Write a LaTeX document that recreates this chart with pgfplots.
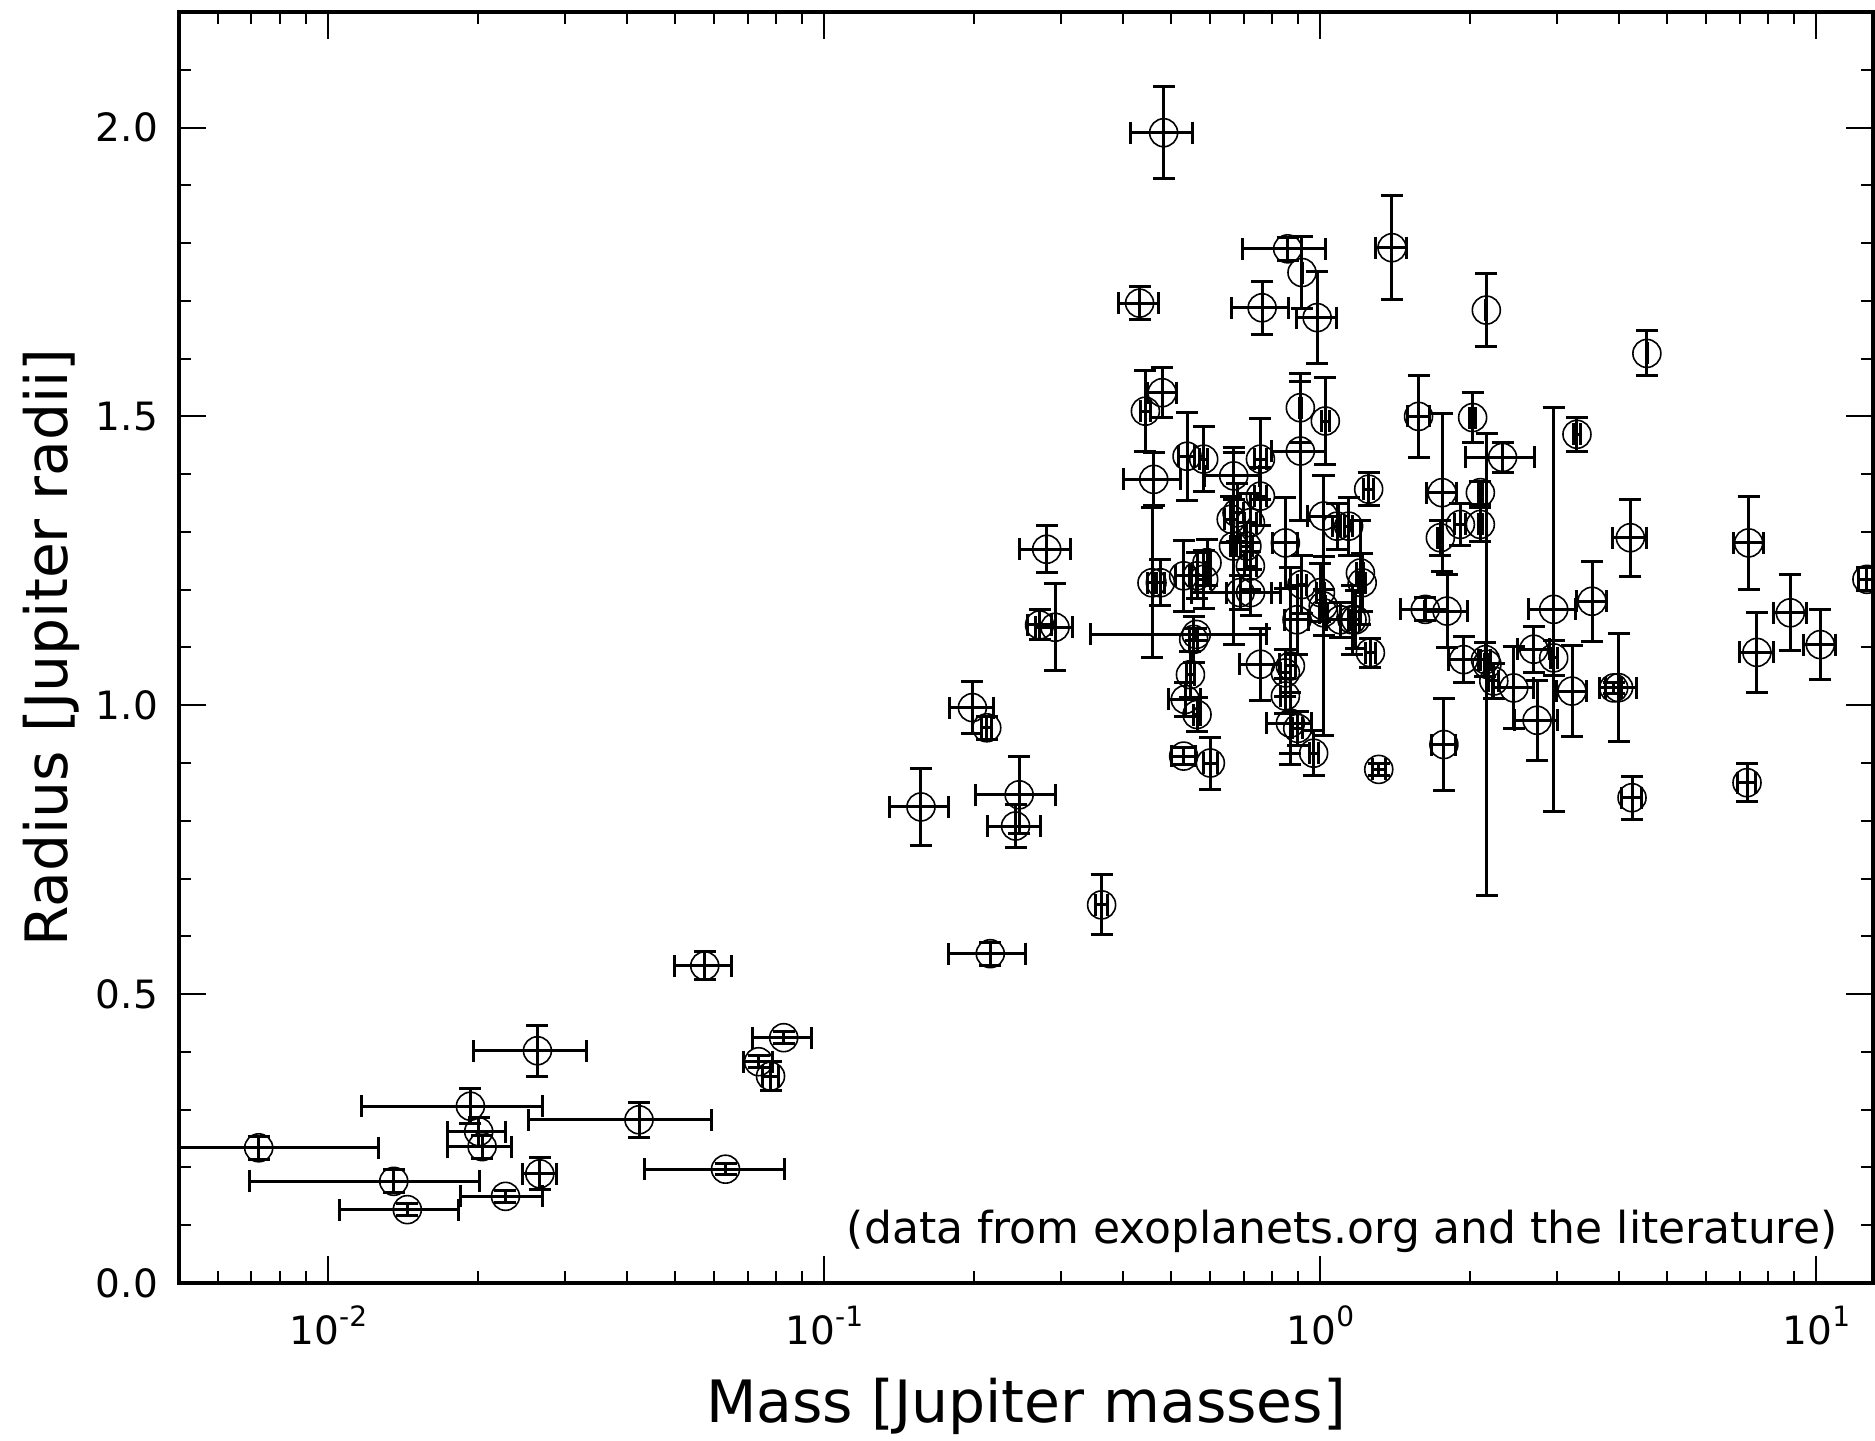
\documentclass[border=0pt]{standalone}
\usepackage{fontspec}
\setmainfont{DejaVu Sans}
\usepackage{pgfplots}
\pgfplotsset{compat=1.18}
\usepackage{pgfplotstable}
\newcommand{\tp}[1]{10\raisebox{4.5pt}{\fontsize{7}{7}\selectfont #1}}

\pgfplotstableread{
m dm r dr
0.00724 0.0054 0.234 0.02
0.01355 0.0066 0.176 0.02
0.01443 0.0039 0.127 0.01
0.02276 0.0043 0.150 0.01
0.02669 0.0021 0.189 0.028
0.01934 0.0077 0.306 0.03
0.0201 0.0027 0.262 0.025
0.02042 0.0030 0.236 0.02
0.0423 0.017 0.2825 0.03
0.0632 0.0198 0.197 0.01
0.0264 0.0068 0.402 0.044
0.0574 0.0075 0.549 0.024
0.0737 0.005 0.383 0.01
0.0779 0.003 0.358 0.025
0.0828 0.0113 0.4246 0.01
0.1566 0.0215 0.824 0.067
0.1988 0.020 0.996 0.045
0.2125 0.005 0.961 0.02
0.2160 0.038 0.570 0.02
0.2470 0.045 0.845 0.067
0.2429 0.030 0.791 0.037
0.2715 0.015 1.139 0.026
0.2807 0.033 1.270 0.041
0.2917 0.025 1.135 0.075
0.3622 0.010 0.6545 0.052
0.562 0.218 1.1226 0.01
0.483 0.068 1.991 0.08
0.432 0.040 1.696 0.029
0.763 0.100 1.688 0.046
0.859 0.164 1.790 0.02
0.918 0.003 1.749 0.062
0.985 0.090 1.671 0.08
1.394 0.100 1.792 0.0895
2.160 0.004 1.684 0.0635
4.551 0.008 1.609 0.039
3.290 0.050 1.469 0.029
1.577 0.080 1.500 0.071
2.027 0.030 1.498 0.043
2.329 0.370 1.429 0.026
2.101 0.020 1.368 0.02
2.166 0.020 1.071 0.40
2.101 0.020 1.313 0.03
1.915 0.050 1.313 0.036
1.759 0.120 1.368 0.137
1.745 0.020 1.290 0.03
1.627 0.180 1.166 0.02
1.800 0.180 1.163 0.0635
1.944 0.135 1.079 0.04
2.151 0.050 1.079 0.03
2.236 0.050 1.042 0.03
2.453 0.230 1.030 0.071
2.734 0.275 0.974 0.069
2.692 0.200 1.097 0.04
2.953 0.050 1.082 0.03
2.953 0.320 1.166 0.35
3.215 0.225 1.0245 0.079
3.528 0.250 1.180 0.069
4.215 0.330 1.290 0.0665
3.992 0.340 1.0305 0.094
3.902 0.150 1.030 0.01
4.248 0.200 0.840 0.0375
7.300 0.510 1.281 0.081
7.244 0.300 0.866 0.033
7.585 0.590 1.0915 0.069
8.856 0.670 1.160 0.066
10.18 0.750 1.105 0.061
12.64 0.500 1.218 0.02
1.774 0.100 0.932 0.079
0.4796 0.032 1.541 0.043
0.4438 0.010 1.509 0.07
0.4613 0.060 1.391 0.046
0.4576 0.010 1.212 0.13
0.5385 0.020 1.431 0.0765
0.5817 0.010 1.426 0.056
0.6687 0.085 1.397 0.04
0.757 0.020 1.426 0.07
0.911 0.003 1.515 0.06
0.911 0.113 1.440 0.12
1.023 0.020 1.492 0.075
1.251 0.030 1.374 0.029
1.015 0.075 1.3275 0.07
1.080 0.020 1.310 0.04
1.140 0.020 1.310 0.05
1.204 0.020 1.229 0.09
1.214 0.020 1.212 0.05
1.158 0.020 1.148 0.06
1.097 0.070 1.148 0.03
1.015 0.020 1.160 0.04
1.261 0.030 1.091 0.025
1.177 0.020 1.148 0.05
1.000 0.020 1.195 0.05
1.013 0.010 1.172 0.225
0.850 0.050 1.281 0.079
0.918 0.020 1.209 0.05
0.897 0.050 1.148 0.06
0.870 0.020 1.068 0.17
0.757 0.070 1.071 0.062
0.850 0.020 1.056 0.04
0.850 0.020 1.016 0.03
0.870 0.090 0.969 0.053
0.969 0.020 0.917 0.039
0.900 0.020 0.960 0.03
0.600 0.020 0.900 0.045
0.530 0.030 0.912 0.015
0.534 0.040 1.010 0.03
0.564 0.010 0.984 0.03
0.547 0.010 1.053 0.04
1.311 0.040 0.889 0.01
0.4757 0.010 1.212 0.04
0.530 0.020 1.224 0.062
0.564 0.020 1.224 0.04
0.5817 0.020 1.218 0.05
0.5907 0.010 1.2467 0.04
0.689 0.140 1.195 0.03
0.668 0.010 1.2755 0.17
0.679 0.020 1.333 0.05
0.7226 0.020 1.316 0.05
0.757 0.020 1.362 0.05
0.711 0.020 1.2755 0.04
0.7226 0.020 1.2409 0.04
0.661 0.020 1.322 0.04
0.723 0.075 1.195 0.04
0.5553 0.010 1.114 0.04
}\planets

\begin{document}
\begin{tikzpicture}
\begin{axis}[
  scale only axis, width=423.5pt, height=317.75pt,
  xmode=log, xmin=0.005, xmax=13, ymin=0, ymax=2.2,
  xtick={0.01,0.1,1,10},
  xticklabels={\tp{-2},\tp{-1},\tp{0},\tp{1}},
  minor xtick={0.006,0.007,0.008,0.009,0.02,0.03,0.04,0.05,0.06,0.07,0.08,0.09,0.2,0.3,0.4,0.5,0.6,0.7,0.8,0.9,2,3,4,5,6,7,8,9},
  ytick={0,0.5,1,1.5,2},
  minor ytick={0.1,0.2,0.3,0.4,0.6,0.7,0.8,0.9,1.1,1.2,1.3,1.4,1.6,1.7,1.8,1.9,2.1},
  /pgf/number format/assume math mode=true,
  yticklabel style={/pgf/number format/fixed,/pgf/number format/fixed zerofill,/pgf/number format/precision=1, xshift=-1.75pt},
  xticklabel style={yshift=-2.25pt},
  ticklabel style={font=\fontsize{9.75}{11}\selectfont},
  tick align=inside,
  major tick length=6.67pt, minor tick length=2.9pt,
  tick style={black, line width=0.5pt},
  axis line style={black, line width=0.8pt},
  clip marker paths=true,
]
\addplot[only marks, mark=o, mark size=3.5pt, mark options={black, line width=0.4pt},
  error bars/.cd, x dir=both, x explicit, y dir=both, y explicit,
  error bar style={black, line width=0.75pt},
  error mark options={rotate=90, black, mark size=2.75pt, line width=0.75pt}]
  table[x=m, y=r, x error=dm, y error=dr]{\planets};
\end{axis}
\node[rotate=90, anchor=base, font=\fontsize{14.6}{17}\selectfont] at ([xshift=-27.75pt]current axis.west) {Radius [Jupiter radii]};
\node[anchor=base, font=\fontsize{14.6}{17}\selectfont] at ([yshift=-34.75pt]current axis.south) {Mass [Jupiter masses]};
\node[anchor=base east, inner sep=0pt, font=\fontsize{11}{13}\selectfont] at ([xshift=-8.75pt,yshift=10pt]current axis.south east) {(data from exoplanets.org and the literature)};
\pgfresetboundingbox
\path[use as bounding box] ([shift={(-44.75pt,-39.25pt)}]current axis.south west) rectangle ([shift={(0.5pt,3pt)}]current axis.north east);
\end{tikzpicture}
\end{document}
